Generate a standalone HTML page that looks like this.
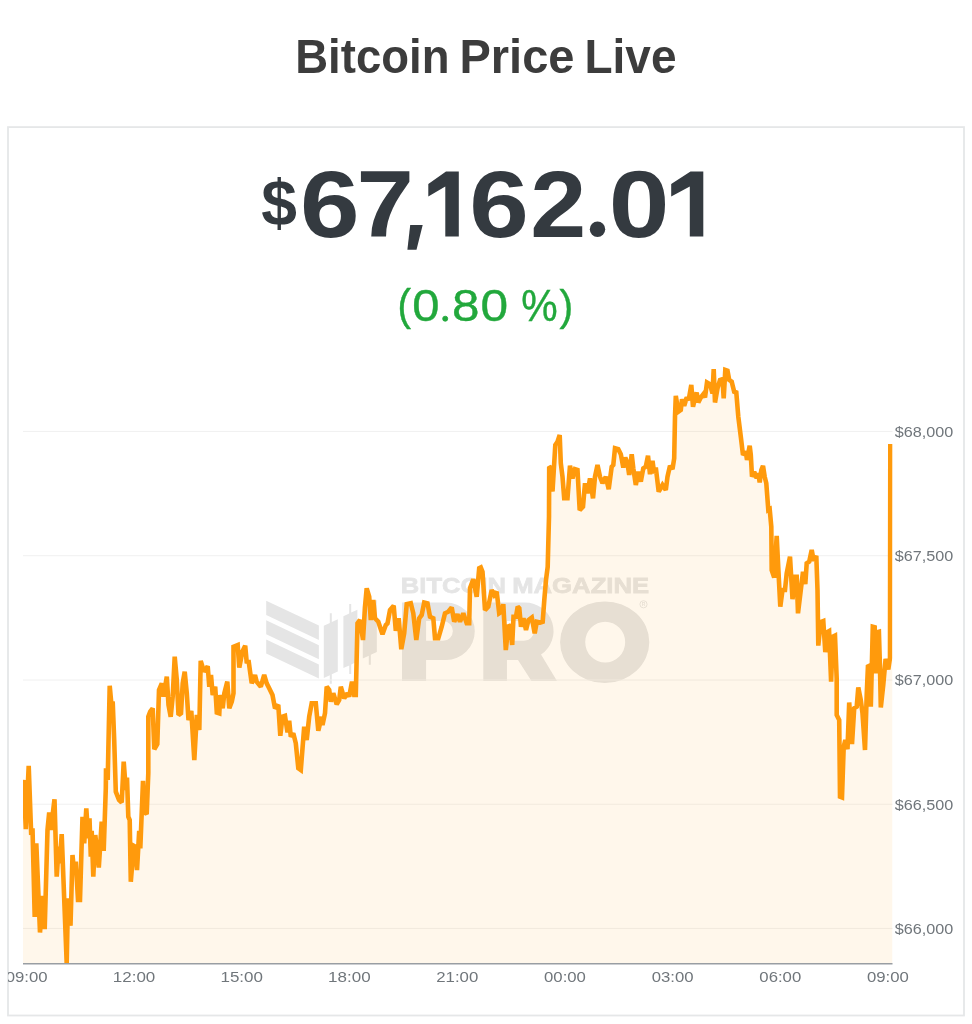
<!DOCTYPE html>
<html><head><meta charset="utf-8"><title>Bitcoin Price Live</title>
<style>
html,body{margin:0;padding:0;background:#fff;}
body{width:972px;height:1024px;position:relative;overflow:hidden;font-family:"Liberation Sans",sans-serif;}
.card{position:absolute;left:7px;top:126px;width:956px;height:889px;border:1px solid #e3e3e3;box-sizing:content-box;}
svg{position:absolute;left:0;top:0;will-change:transform;}
svg text{font-family:"Liberation Sans",sans-serif;}
.ax text{fill:#70767b;}
</style></head><body>
<svg width="972" height="1024" viewBox="0 0 972 1024">
<defs><clipPath id="cp"><rect x="23" y="360" width="869.5" height="603.5"/></clipPath>
<clipPath id="cc"><rect x="8.8" y="128" width="954.4" height="887"/></clipPath></defs>
<rect x="8" y="127.1" width="956" height="888.4" fill="none" stroke="#e5e7e8" stroke-width="1.8"/>
<g fill="#3c3c3c" opacity="0.999"><text transform="translate(295.23,72.90) scale(0.4552,0.4829)" font-size="100" font-weight="bold" >Bitcoin</text><text transform="translate(459.43,72.90) scale(0.4704,0.4829)" font-size="100" font-weight="bold" >Price</text><text transform="translate(584.50,72.90) scale(0.4600,0.4829)" font-size="100" font-weight="bold" >Live</text></g>
<g fill="#343a40" opacity="0.999"><text transform="translate(261.20,225.38) scale(0.6415,0.6557)" font-size="100" font-weight="bold" >$</text><text transform="translate(299.98,236.75) scale(1.0715,0.9527)" font-size="100" font-weight="bold" >6</text><text transform="translate(356.61,236.50) scale(1.0319,0.9455)" font-size="100" font-weight="bold" >7</text><polygon points="410.2,225 422.7,225 416.5,249.7 407.4,249.7"/><polygon points="446.0,171.5 458.8,171.5 458.8,236.5 445.3,236.5 445.3,186.5 428.3,196.5 428.3,184.0"/><text transform="translate(469.28,236.75) scale(1.0715,0.9527)" font-size="100" font-weight="bold" >6</text><text transform="translate(530.17,236.50) scale(1.0073,0.9491)" font-size="100" font-weight="bold" >2</text><circle cx="597.5" cy="229.3" r="7.7"/><text transform="translate(608.83,236.75) scale(1.0926,0.9527)" font-size="100" font-weight="bold" >0</text><polygon points="690.5,171.5 703.3,171.5 703.3,236.5 689.8,236.5 689.8,186.5 671.2,196.5 671.2,184.0"/></g>
<g fill="#22a83c" stroke="#22a83c" stroke-width="0.9" opacity="0.999"><text transform="translate(397.38,319.89) scale(0.4038,0.4343)" font-size="100" font-weight="normal" >(</text><text transform="translate(412.34,320.86) scale(0.4901,0.4367)" font-size="100" font-weight="normal" >0</text><circle cx="445.2" cy="318.7" r="2.5"/><text transform="translate(452.10,320.86) scale(0.4936,0.4367)" font-size="100" font-weight="normal" >8</text><text transform="translate(480.61,320.86) scale(0.4963,0.4367)" font-size="100" font-weight="normal" >0</text><text transform="translate(521.27,321.08) scale(0.4098,0.4414)" font-size="100" font-weight="normal" >%</text><text transform="translate(559.49,319.89) scale(0.4113,0.4343)" font-size="100" font-weight="normal" >)</text></g>
<g id="wm" fill="#000" opacity="0.102">
<g transform="translate(0,0.6)"><polygon points="266.2,600.1 318.9,625 318.9,639.3 266.2,614.3"/>
<polygon points="266.2,619.6 318.9,644.6 318.9,658.6 266.2,633.6"/>
<polygon points="266.2,639 318.9,664 318.9,678 266.2,652.8"/></g>
<path d="M323.8,625.8 L329.8,623 V613.3 H331.8 V622 L337.8,619.2 V671.4 L331.8,674.2 V683.8 H329.8 V675.2 L323.8,678 Z"/>
<path d="M343.4,616.3 L349.2,613.6 V604 H351.2 V612.6 L357.4,609.7 V661.5 L351.2,664.4 V674 H349.2 V665.4 L343.4,668.1 Z"/>
<path d="M362.8,606.7 L368.8,603.9 V594.5 H370.8 V602.9 L376.8,600.1 V652 L370.8,654.8 V664.8 H368.8 V655.8 L362.8,658.6 Z"/>
<text transform="translate(400.87,592.90) scale(0.2557,0.2284)" font-size="100" font-weight="bold" stroke="#000" stroke-width="3.6">BITCOIN</text><text transform="translate(512.17,592.90) scale(0.2570,0.2284)" font-size="100" font-weight="bold" stroke="#000" stroke-width="3.6">MAGAZINE</text>
<path fill-rule="evenodd" d="M402,602.5 H446 A28.7,28.7 0 0 1 446,660 H426.1 V681 H402 Z M426.1,621 H443 A9.9,9.9 0 0 1 443,640.8 H426.1 Z"/>
<path fill-rule="evenodd" d="M483.3,602.5 H525 A28.5,28.5 0 0 1 541,654.6 L557,681 H531.5 L518,660 H506.9 V681 H483.3 Z M506.9,621 H524 A9.9,9.9 0 0 1 524,640.8 H506.9 Z"/>
<path fill-rule="evenodd" d="M560.1,642.2 A44.6,40.8 0 1 0 649.3,642.2 A44.6,40.8 0 1 0 560.1,642.2 Z M585.2,642.1 A20,20.4 0 1 0 625.2,642.1 A20,20.4 0 1 0 585.2,642.1 Z"/>
<circle cx="643.5" cy="604.3" r="3.6" fill="none" stroke="#000" stroke-width="0.9"/><text x="641.7" y="606.1" font-size="5" font-weight="bold">R</text>
</g>
<g stroke="#f0f0f0" stroke-width="1"><line x1="23" x2="892.5" y1="431.4" y2="431.4"/><line x1="23" x2="892.5" y1="555.7" y2="555.7"/><line x1="23" x2="892.5" y1="680" y2="680"/><line x1="23" x2="892.5" y1="804.2" y2="804.2"/><line x1="23" x2="892.5" y1="928.4" y2="928.4"/></g>
<g clip-path="url(#cp)">
<path d="M23,790 L23.7,780 L25.8,829.2 L28.7,765.8 L31.2,835 L32.5,828.3 L34.7,917 L36.3,843.3 L40,932.5 L42.5,895.8 L44.7,929.2 L47.5,830 L49.2,812.5 L50.8,830 L54.5,799.2 L56.7,876.7 L58.7,846.7 L59.7,863.3 L61.7,834.2 L66.7,963.3 L68,898.3 L70.5,925.8 L72.5,855 L74.2,873.3 L75.8,861.7 L78,900 L80,900 L82.5,816.7 L84.2,843.3 L86.3,808.3 L88.3,838.3 L89.5,818.3 L90.8,856.7 L91.7,830.8 L93.3,876.7 L95.3,835 L98.8,867.5 L101.7,821.7 L103.7,850.8 L105.8,788.3 L106,768.3 L107.7,780 L109.7,685.8 L111.3,703.3 L112.7,701.7 L114.2,740 L115.8,791.7 L119,800 L121.7,802.5 L123.7,761.7 L125.8,790 L127,777.5 L128.3,816.7 L129.7,820 L130.8,881.7 L133.7,845.8 L135.3,846.7 L137,870 L139.2,830.8 L140.3,848.3 L143,780.8 L144.2,811.7 L146.7,814.2 L148.3,773.3 L148.3,716.7 L150.2,711.7 L152.7,708.3 L154.3,749.2 L157.3,744.2 L159,690 L161.8,683.3 L163.5,696.7 L166.8,676.7 L168.5,705 L170.7,716.7 L172.7,696.7 L174.7,656.7 L176.8,680 L178.5,715 L181,713.3 L182.7,683.3 L184.7,671.7 L186.8,693.3 L188.5,720 L191.3,710.8 L194.3,760 L196.8,715 L199.3,730 L200.7,660.8 L204,671.7 L207.7,666.3 L209.3,686.7 L211,675 L212.7,695 L215.2,686.7 L216.8,712.5 L219.3,713.3 L220.2,695 L222.7,708.3 L224.3,693.3 L227.3,681.7 L229.3,708.3 L231.8,701.7 L233.5,693.3 L233.5,646.7 L237.7,645 L239.3,667.5 L242.3,651.7 L245.2,645.8 L246.8,663.3 L248.5,660 L250.2,672.5 L251.7,683.3 L255,675 L256.7,681.7 L260.8,686.7 L264.2,675 L266.7,683.3 L269.2,688.3 L272.5,695 L275,708.3 L278.3,705 L280.3,735.8 L282.5,716.7 L285,715.8 L287.5,732.5 L289.2,720.8 L290.8,736.7 L293.3,733.3 L295.8,743.3 L298.3,768.3 L300.8,770 L304.2,726.7 L306.7,740 L309.2,716.7 L311.7,703.3 L315.8,703.3 L318.3,730.8 L321.7,716.7 L322.5,725 L325,713.3 L326.7,686.7 L329.2,690 L330.8,701.7 L333.3,693.3 L336.7,704.2 L339.2,700 L340.8,686.7 L344.2,698.3 L347.5,693.3 L349.2,696.7 L352,681.7 L354.2,695 L355.8,695 L357.5,623.3 L360,620 L363,640 L365,606.7 L366.7,588.3 L369.2,596.7 L370.8,620 L373.3,600 L375,618.3 L378.3,621.7 L382.5,634.2 L385.8,625 L387.5,623.3 L390,610 L393.7,605.8 L395.8,630.8 L398.7,618.3 L401.3,649.2 L404.2,633.3 L406.7,604.2 L410.8,603.3 L413.3,613.3 L416.3,640 L419.2,618.3 L421.7,615 L424.2,602.5 L427.5,603.3 L430,616.7 L433.3,618.3 L435,638.3 L438.3,638.3 L441.7,626.7 L445,613.3 L448.3,611.7 L451.7,607.5 L454.2,621.7 L457.5,614.2 L460,621.7 L463.3,613.3 L466.7,623.3 L469.2,623.3 L470,588.3 L473.3,579.2 L476.7,596.7 L479.2,568.3 L480.8,567.5 L482.5,571.7 L485,610 L488.3,606.7 L491.7,590 L494.2,595 L496.7,591.7 L499.2,613.3 L501.7,611.7 L503.3,604.2 L505.8,650 L508.5,625 L510.2,626.7 L512.2,645 L513.5,616.7 L516,616.7 L517.7,606.7 L519.3,608.3 L521,626.7 L523.5,618.3 L526,630 L528.5,620 L531.8,617.5 L534.7,633.3 L536.8,621.7 L540.2,622.5 L542.7,621.7 L544.3,600 L546,580 L547.7,566.7 L549,516.7 L549.2,466.7 L551.7,468.3 L552.5,491.7 L555.3,445 L557.5,441.7 L559.7,435 L560.8,463.3 L562.5,476.7 L564.2,498.3 L567.5,498.3 L570,465.8 L572.5,478.3 L575,469.2 L577.5,470 L579.7,510 L583,506.7 L585,483.3 L587.5,493.3 L590,478.3 L593,498.3 L595,476.7 L597.5,465 L600,476.7 L602.5,483.3 L605.8,476.7 L608.7,489.2 L611.7,466.7 L613.3,465 L615,448.3 L618.3,449.2 L620.8,454.2 L623.3,467.5 L625.3,457.5 L627.5,463.3 L629.2,475 L631.7,454.2 L633.3,468.3 L635.8,485 L638.3,471.7 L640.8,481.7 L643.3,468.3 L645.8,466.7 L648,455.8 L650,474.2 L652.5,460.8 L654.2,473.3 L655.8,467.5 L658.7,491.7 L662.5,485 L665.8,490 L667.5,476.7 L670,465.8 L672.5,469.2 L674.2,458.3 L675,416.7 L675.8,395.8 L678.3,411.7 L680.8,410 L682,399.2 L684.2,405.8 L686.7,397.5 L688.7,400 L691.3,385 L693,406.7 L695,398.3 L696.7,392.5 L698.3,402.5 L700.8,397.5 L703.3,394.2 L705,397.5 L707,382.5 L710,384.2 L712.5,393.3 L713.7,369.2 L715,402.5 L717.5,388.3 L720,380 L722.5,379.2 L723.7,398.3 L725.3,370 L727.5,370.8 L729.2,380 L731.7,381.7 L734.2,391.7 L736.3,392.5 L738.3,416.7 L740.8,436.7 L743,455 L745.8,451.7 L747,460 L749.7,445.8 L750.8,455 L752,476.7 L754.2,471.7 L756.7,478.3 L758.3,473.3 L759.7,482.5 L761.3,470 L763,465.8 L764.7,476.7 L766.3,483.3 L768.3,510 L769.7,509.2 L771.3,526.7 L771.7,570 L774.2,577.5 L776.7,535.8 L778.3,568.3 L780.3,606.7 L782.5,590 L785,590 L786.7,573.3 L790,556.7 L792.5,599.2 L795,576.7 L796.7,576.7 L798,613.3 L800.8,590 L803,571.7 L805.3,584.2 L806.7,563.3 L809.2,561.7 L811.7,550 L813.7,560.8 L816.3,555.8 L817.5,590 L818.3,645.6 L820.6,622.2 L823.3,621.1 L825.3,652.2 L827.2,632.2 L829.1,631.1 L831.1,681.7 L832.8,636.7 L835,635.6 L836.7,678.9 L836.7,715 L839.2,720 L840,796.7 L842,797.5 L843.7,746.7 L845.3,740 L847.5,749.2 L849.2,702.5 L852,744.2 L854.2,708.3 L856.7,706.7 L858.3,687.5 L860.8,700 L862.5,713.3 L865,750 L866.7,695 L868,665 L870,666.7 L870.8,706.7 L872.8,626.7 L874.7,627.2 L875.6,673.3 L877.2,632.2 L878.9,631.7 L880,667.8 L880.8,707.5 L883.3,684.4 L885.6,658.9 L888.3,669.4 L890,657.8 L890.3,444 L892.5,444 L892.5,963.5 L23,963.5 Z" fill="#ff9900" fill-opacity="0.08"/>
<path d="M23,790 L23.7,780 L25.8,829.2 L28.7,765.8 L31.2,835 L32.5,828.3 L34.7,917 L36.3,843.3 L40,932.5 L42.5,895.8 L44.7,929.2 L47.5,830 L49.2,812.5 L50.8,830 L54.5,799.2 L56.7,876.7 L58.7,846.7 L59.7,863.3 L61.7,834.2 L66.7,963.3 L68,898.3 L70.5,925.8 L72.5,855 L74.2,873.3 L75.8,861.7 L78,900 L80,900 L82.5,816.7 L84.2,843.3 L86.3,808.3 L88.3,838.3 L89.5,818.3 L90.8,856.7 L91.7,830.8 L93.3,876.7 L95.3,835 L98.8,867.5 L101.7,821.7 L103.7,850.8 L105.8,788.3 L106,768.3 L107.7,780 L109.7,685.8 L111.3,703.3 L112.7,701.7 L114.2,740 L115.8,791.7 L119,800 L121.7,802.5 L123.7,761.7 L125.8,790 L127,777.5 L128.3,816.7 L129.7,820 L130.8,881.7 L133.7,845.8 L135.3,846.7 L137,870 L139.2,830.8 L140.3,848.3 L143,780.8 L144.2,811.7 L146.7,814.2 L148.3,773.3 L148.3,716.7 L150.2,711.7 L152.7,708.3 L154.3,749.2 L157.3,744.2 L159,690 L161.8,683.3 L163.5,696.7 L166.8,676.7 L168.5,705 L170.7,716.7 L172.7,696.7 L174.7,656.7 L176.8,680 L178.5,715 L181,713.3 L182.7,683.3 L184.7,671.7 L186.8,693.3 L188.5,720 L191.3,710.8 L194.3,760 L196.8,715 L199.3,730 L200.7,660.8 L204,671.7 L207.7,666.3 L209.3,686.7 L211,675 L212.7,695 L215.2,686.7 L216.8,712.5 L219.3,713.3 L220.2,695 L222.7,708.3 L224.3,693.3 L227.3,681.7 L229.3,708.3 L231.8,701.7 L233.5,693.3 L233.5,646.7 L237.7,645 L239.3,667.5 L242.3,651.7 L245.2,645.8 L246.8,663.3 L248.5,660 L250.2,672.5 L251.7,683.3 L255,675 L256.7,681.7 L260.8,686.7 L264.2,675 L266.7,683.3 L269.2,688.3 L272.5,695 L275,708.3 L278.3,705 L280.3,735.8 L282.5,716.7 L285,715.8 L287.5,732.5 L289.2,720.8 L290.8,736.7 L293.3,733.3 L295.8,743.3 L298.3,768.3 L300.8,770 L304.2,726.7 L306.7,740 L309.2,716.7 L311.7,703.3 L315.8,703.3 L318.3,730.8 L321.7,716.7 L322.5,725 L325,713.3 L326.7,686.7 L329.2,690 L330.8,701.7 L333.3,693.3 L336.7,704.2 L339.2,700 L340.8,686.7 L344.2,698.3 L347.5,693.3 L349.2,696.7 L352,681.7 L354.2,695 L355.8,695 L357.5,623.3 L360,620 L363,640 L365,606.7 L366.7,588.3 L369.2,596.7 L370.8,620 L373.3,600 L375,618.3 L378.3,621.7 L382.5,634.2 L385.8,625 L387.5,623.3 L390,610 L393.7,605.8 L395.8,630.8 L398.7,618.3 L401.3,649.2 L404.2,633.3 L406.7,604.2 L410.8,603.3 L413.3,613.3 L416.3,640 L419.2,618.3 L421.7,615 L424.2,602.5 L427.5,603.3 L430,616.7 L433.3,618.3 L435,638.3 L438.3,638.3 L441.7,626.7 L445,613.3 L448.3,611.7 L451.7,607.5 L454.2,621.7 L457.5,614.2 L460,621.7 L463.3,613.3 L466.7,623.3 L469.2,623.3 L470,588.3 L473.3,579.2 L476.7,596.7 L479.2,568.3 L480.8,567.5 L482.5,571.7 L485,610 L488.3,606.7 L491.7,590 L494.2,595 L496.7,591.7 L499.2,613.3 L501.7,611.7 L503.3,604.2 L505.8,650 L508.5,625 L510.2,626.7 L512.2,645 L513.5,616.7 L516,616.7 L517.7,606.7 L519.3,608.3 L521,626.7 L523.5,618.3 L526,630 L528.5,620 L531.8,617.5 L534.7,633.3 L536.8,621.7 L540.2,622.5 L542.7,621.7 L544.3,600 L546,580 L547.7,566.7 L549,516.7 L549.2,466.7 L551.7,468.3 L552.5,491.7 L555.3,445 L557.5,441.7 L559.7,435 L560.8,463.3 L562.5,476.7 L564.2,498.3 L567.5,498.3 L570,465.8 L572.5,478.3 L575,469.2 L577.5,470 L579.7,510 L583,506.7 L585,483.3 L587.5,493.3 L590,478.3 L593,498.3 L595,476.7 L597.5,465 L600,476.7 L602.5,483.3 L605.8,476.7 L608.7,489.2 L611.7,466.7 L613.3,465 L615,448.3 L618.3,449.2 L620.8,454.2 L623.3,467.5 L625.3,457.5 L627.5,463.3 L629.2,475 L631.7,454.2 L633.3,468.3 L635.8,485 L638.3,471.7 L640.8,481.7 L643.3,468.3 L645.8,466.7 L648,455.8 L650,474.2 L652.5,460.8 L654.2,473.3 L655.8,467.5 L658.7,491.7 L662.5,485 L665.8,490 L667.5,476.7 L670,465.8 L672.5,469.2 L674.2,458.3 L675,416.7 L675.8,395.8 L678.3,411.7 L680.8,410 L682,399.2 L684.2,405.8 L686.7,397.5 L688.7,400 L691.3,385 L693,406.7 L695,398.3 L696.7,392.5 L698.3,402.5 L700.8,397.5 L703.3,394.2 L705,397.5 L707,382.5 L710,384.2 L712.5,393.3 L713.7,369.2 L715,402.5 L717.5,388.3 L720,380 L722.5,379.2 L723.7,398.3 L725.3,370 L727.5,370.8 L729.2,380 L731.7,381.7 L734.2,391.7 L736.3,392.5 L738.3,416.7 L740.8,436.7 L743,455 L745.8,451.7 L747,460 L749.7,445.8 L750.8,455 L752,476.7 L754.2,471.7 L756.7,478.3 L758.3,473.3 L759.7,482.5 L761.3,470 L763,465.8 L764.7,476.7 L766.3,483.3 L768.3,510 L769.7,509.2 L771.3,526.7 L771.7,570 L774.2,577.5 L776.7,535.8 L778.3,568.3 L780.3,606.7 L782.5,590 L785,590 L786.7,573.3 L790,556.7 L792.5,599.2 L795,576.7 L796.7,576.7 L798,613.3 L800.8,590 L803,571.7 L805.3,584.2 L806.7,563.3 L809.2,561.7 L811.7,550 L813.7,560.8 L816.3,555.8 L817.5,590 L818.3,645.6 L820.6,622.2 L823.3,621.1 L825.3,652.2 L827.2,632.2 L829.1,631.1 L831.1,681.7 L832.8,636.7 L835,635.6 L836.7,678.9 L836.7,715 L839.2,720 L840,796.7 L842,797.5 L843.7,746.7 L845.3,740 L847.5,749.2 L849.2,702.5 L852,744.2 L854.2,708.3 L856.7,706.7 L858.3,687.5 L860.8,700 L862.5,713.3 L865,750 L866.7,695 L868,665 L870,666.7 L870.8,706.7 L872.8,626.7 L874.7,627.2 L875.6,673.3 L877.2,632.2 L878.9,631.7 L880,667.8 L880.8,707.5 L883.3,684.4 L885.6,658.9 L888.3,669.4 L890,657.8 L890.3,444" fill="none" stroke="#ff9a0c" stroke-width="4.6" stroke-linejoin="miter" stroke-miterlimit="2" stroke-linecap="butt"/>
</g>
<line x1="23" x2="892.5" y1="963.7" y2="963.7" stroke="#999ea3" stroke-width="1.5"/>
<g class="ax" clip-path="url(#cc)" opacity="0.999"><text transform="translate(894.64,436.85) scale(0.1621,0.1456)" font-size="100" font-weight="normal" >$68,000</text><text transform="translate(894.64,561.15) scale(0.1621,0.1456)" font-size="100" font-weight="normal" >$67,500</text><text transform="translate(894.64,685.45) scale(0.1621,0.1456)" font-size="100" font-weight="normal" >$67,000</text><text transform="translate(894.64,809.65) scale(0.1621,0.1456)" font-size="100" font-weight="normal" >$66,500</text><text transform="translate(894.64,933.85) scale(0.1621,0.1456)" font-size="100" font-weight="normal" >$66,000</text><text transform="translate(5.73,981.75) scale(0.1674,0.1527)" font-size="100" font-weight="normal" >09:00</text><text transform="translate(112.79,981.75) scale(0.1699,0.1527)" font-size="100" font-weight="normal" >12:00</text><text transform="translate(220.45,981.75) scale(0.1699,0.1527)" font-size="100" font-weight="normal" >15:00</text><text transform="translate(328.11,981.75) scale(0.1699,0.1527)" font-size="100" font-weight="normal" >18:00</text><text transform="translate(436.20,981.75) scale(0.1681,0.1527)" font-size="100" font-weight="normal" >21:00</text><text transform="translate(544.03,981.75) scale(0.1674,0.1527)" font-size="100" font-weight="normal" >00:00</text><text transform="translate(651.69,981.75) scale(0.1674,0.1527)" font-size="100" font-weight="normal" >03:00</text><text transform="translate(759.35,981.75) scale(0.1674,0.1527)" font-size="100" font-weight="normal" >06:00</text><text transform="translate(867.01,981.75) scale(0.1674,0.1527)" font-size="100" font-weight="normal" >09:00</text></g>
</svg>
</body></html>
